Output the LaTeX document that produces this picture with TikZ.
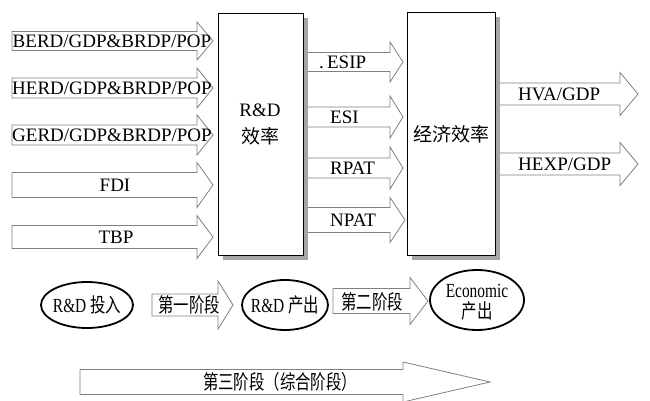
\documentclass[tikz,border=0pt]{standalone}
\usepackage{fontspec}
\usepackage{graphicx}
\setmainfont{Liberation Serif}
\newfontfamily\cjk[Scale=1.0]{Noto Sans CJK SC}
\usetikzlibrary{shapes.geometric}
% block arrow: x0, xbase, xtip, ycenter, half body, half head
\newcommand\blkarrow[6]{%
  \draw[barrow] (#1,#4-#5) -- (#2,#4-#5) -- (#2,#4-#6) -- (#3,#4) -- (#2,#4+#6) -- (#2,#4+#5) -- (#1,#4+#5) -- cycle;}
\newcommand\narrowtxt[1]{\scalebox{0.77}[1]{#1}}
\begin{document}
\begin{tikzpicture}[x=1pt,y=-1pt,
  barrow/.style={draw=black!50, line width=0.8pt, fill=white, line join=miter},
  boxsh/.style={fill=black!35, draw=none},
  bigbox/.style={draw=black, line width=1.4pt, fill=white, inner sep=0pt},
  lbl/.style={inner sep=0pt, font=\fontsize{19}{22}\selectfont},
  slbl/.style={inner sep=0pt, font=\fontsize{20}{22}\selectfont, align=center},
  ell/.style={ellipse, draw=black, line width=1.8pt, inner sep=0pt, fill=white}]
\useasboundingbox (0,0) rectangle (650,401);

% left input arrows
\blkarrow{12}{197}{213}{41}{9.5}{19}
\blkarrow{12}{197}{213}{88}{10}{20}
\blkarrow{12}{197}{213}{135}{10}{20}
\blkarrow{12}{197}{213}{185}{12.5}{22.5}
\blkarrow{12}{197}{213}{237}{11.5}{21.5}
\node[lbl] (berd) at (112,41) {BERD/GDP\&BRDP/POP};
\node[lbl] (herd) at (112,88) {HERD/GDP\&BRDP/POP};
\node[lbl] (gerd) at (112,135) {GERD/GDP\&BRDP/POP};
\node[lbl] (fdi) at (115,185) {FDI};
\node[lbl] (tbp) at (116,237) {TBP};

% middle arrows
\blkarrow{300}{390}{403}{62}{9.5}{20}
\blkarrow{300}{390}{403}{117}{10}{21}
\blkarrow{300}{390}{403}{168}{10}{21}
\blkarrow{300}{390}{405}{220}{12.5}{22.5}
\node[lbl, anchor=west] (esip) at (319,62) {.\,ESIP};
\node[lbl, anchor=west] (esi) at (330,117) {ESI};
\node[lbl, anchor=west] (rpat) at (330,168) {RPAT};
\node[lbl, anchor=west] (npat) at (330,220) {NPAT};

% right output arrows
\blkarrow{495}{620}{638}{94}{11}{21.5}
\blkarrow{495}{620}{638}{164}{11}{21.5}
\node[lbl, anchor=west] (hva) at (518,94) {HVA/GDP};
\node[lbl, anchor=west] (hexp) at (518,164) {HEXP/GDP};

% boxes with shadows
\fill[boxsh] (223,18) rectangle (308,260);
\node[bigbox, minimum width=85, minimum height=242, anchor=north west] (rd) at (218,13) {};
\node[lbl] (rdt1) at (260,110) {R\&D};
\node[lbl] (rdt2) at (260,136) {\cjk 效率};
\fill[boxsh] (412,17) rectangle (500,260);
\node[bigbox, minimum width=88, minimum height=243, anchor=north west] (ec) at (407,12) {};
\node[lbl] (ect) at (451,134) {\cjk 经济效率};

% bottom row
\node[ell, minimum width=92, minimum height=46] (e1) at (87,305) {};
\node[slbl] (e1t) at (87,305) {\narrowtxt{R\&D {\cjk 投入}}};
\blkarrow{152}{218}{233}{305}{11}{24}
\node[slbl] (s1) at (189,305) {\narrowtxt{\cjk 第一阶段}};
\node[ell, minimum width=86, minimum height=50] (e2) at (285,305) {};
\node[slbl] (e2t) at (285,305) {\narrowtxt{R\&D {\cjk 产出}}};
\blkarrow{333}{410}{428}{301}{12.5}{23.5}
\node[slbl] (s2) at (372,302) {\narrowtxt{\cjk 第二阶段}};
\node[ell, minimum width=94, minimum height=60] (e3) at (477,300) {};
\node[slbl] (e3a) at (477,291) {\narrowtxt{Economic}};
\node[slbl] (e3b) at (477,311) {\narrowtxt{\cjk 产出}};

% third stage arrow
\blkarrow{80}{403}{490}{382}{12.5}{20}
\node[slbl] (s3) at (280,382) {\narrowtxt{\cjk 第三阶段（综合阶段）}};
\end{tikzpicture}
\end{document}
